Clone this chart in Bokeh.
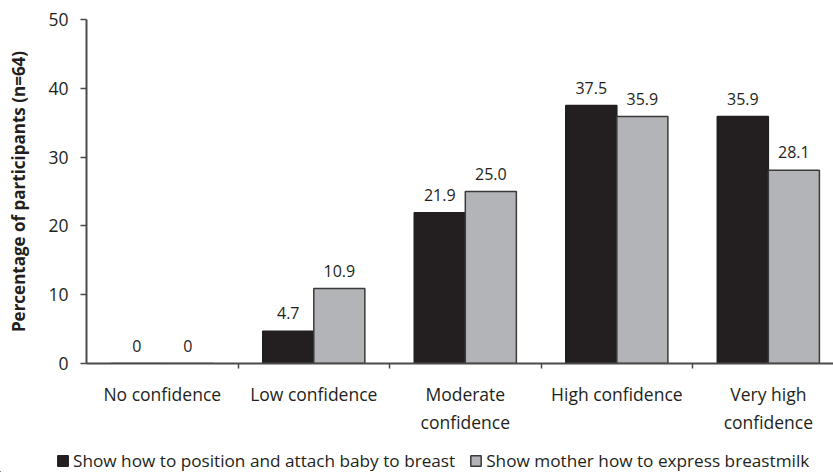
import numpy as np
from bokeh.plotting import figure
from bokeh.layouts import column
from bokeh.models import Range1d, FixedTicker, ColumnDataSource, Legend, LegendItem
from bokeh.core.properties import value
from bokeh.embed import file_html
from bokeh.resources import INLINE

categories = ["No confidence", "Low confidence", "Moderate\nconfidence", "High confidence", "Very high\nconfidence"]
series_names = ["Show how to position and attach baby to breast", "Show mother how to express breastmilk"]
position_attach = [0, 4.7, 21.9, 37.5, 35.9]
express_milk = [0, 10.9, 25.0, 35.9, 28.1]
label_position = ["0", "4.7", "21.9", "37.5", "35.9"]
label_express = ["0", "10.9", "25.0", "35.9", "28.1"]
y_ticks = [0, 10, 20, 30, 40, 50]

FONT = "Open Sans"
DARK = "#231f20"
GRAY = "#b3b4b7"
EDGE2 = "#3a3a3a"

idx = np.arange(len(categories)) + 0.5
bw = 0.337

p = figure(width=833, height=437, output_backend="svg", toolbar_location=None,
           x_range=Range1d(0, 4.93), y_range=Range1d(0, 50),
           min_border_left=86, min_border_right=0, min_border_top=19, min_border_bottom=74)
p.outline_line_color = None
p.xgrid.visible = False
p.ygrid.visible = False
p.background_fill_color = "white"
p.border_fill_color = "white"
p.frame_align = False

s1 = ColumnDataSource(dict(x=idx - bw / 2, top=position_attach, lab=label_position))
s2 = ColumnDataSource(dict(x=idx + bw / 2, top=express_milk, lab=label_express))

p.vbar(x="x", top="top", width=bw, source=s1, fill_color=DARK, line_color=DARK, line_width=1.5)
p.vbar(x="x", top="top", width=bw, source=s2, fill_color=GRAY, line_color=EDGE2, line_width=1.5)

for s in (s1, s2):
    p.text(x="x", y="top", text="lab", source=s, text_align="center", text_baseline="middle",
           y_offset=-18, text_font=value(FONT), text_font_size="16px", text_color=DARK)

# y axis
ya = p.yaxis[0]
ya.ticker = FixedTicker(ticks=y_ticks, minor_ticks=[])
ya.axis_label = "Percentage of participants (n=64)"
ya.axis_label_text_font = FONT
ya.axis_label_text_font_style = "bold"
ya.axis_label_text_font_size = "17px"
ya.axis_label_text_color = DARK
ya.axis_label_standoff = 15
ya.major_label_text_font = FONT
ya.major_label_text_font_size = "17.5px"
ya.major_label_text_color = DARK
ya.major_label_standoff = 12
ya.axis_line_color = "#4a4a4a"
ya.axis_line_width = 2
ya.major_tick_line_color = "#4a4a4a"
ya.major_tick_line_width = 1.5
ya.major_tick_out = 6
ya.major_tick_in = 0
ya.minor_tick_line_color = None

# x axis
xa = p.xaxis[0]
xa.ticker = FixedTicker(ticks=list(idx), minor_ticks=list(range(1, len(categories) + 1)))
xa.major_label_overrides = {float(v): c for v, c in zip(idx, categories)}
xa.major_label_text_font = FONT
xa.major_label_text_font_size = "17.5px"
xa.major_label_text_color = DARK
xa.major_label_standoff = 12
xa.major_tick_line_color = None
xa.minor_tick_line_color = "#4a4a4a"
xa.minor_tick_line_width = 1.5
xa.minor_tick_out = 5
xa.minor_tick_in = 0
xa.axis_line_color = "#4a4a4a"
xa.axis_line_width = 2

# legend strip (same data sources, drawn outside the strip's visible range)
lg = figure(width=833, height=35, output_backend="svg", toolbar_location=None,
            x_range=Range1d(100, 101), y_range=Range1d(100, 101),
            min_border=0, x_axis_location=None, y_axis_location=None)
lg.outline_line_color = None
lg.xgrid.visible = False
lg.ygrid.visible = False
lg.frame_align = False
e1 = lg.vbar(x="x", top="top", width=bw, source=s1, fill_color=DARK, line_color=DARK, line_width=1.5)
e2 = lg.vbar(x="x", top="top", width=bw, source=s2, fill_color=GRAY, line_color=EDGE2, line_width=1.5)
legend = Legend(items=[LegendItem(label=series_names[0], renderers=[e1]),
                       LegendItem(label=series_names[1], renderers=[e2])],
                location=(56, 0), orientation="horizontal",
                glyph_width=13, glyph_height=13, label_text_font=FONT,
                label_text_font_size="17.2px", label_text_color=DARK,
                label_standoff=4, spacing=14, padding=0, margin=0,
                border_line_color=None, background_fill_alpha=0)
lg.add_layout(legend, "center")

layout = column(p, lg, spacing=0)
open("out.html", "w").write(file_html(layout, INLINE))
